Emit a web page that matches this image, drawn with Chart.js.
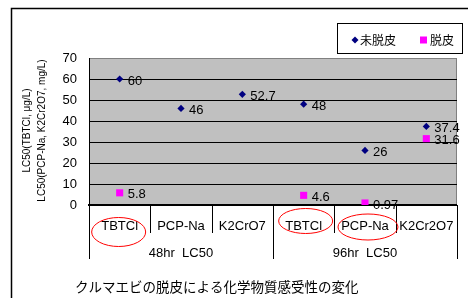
<!DOCTYPE html>
<html>
<head>
<meta charset="utf-8">
<script src="https://cdn.jsdelivr.net/npm/chart.js@4"></script>
<style>
  body { margin: 0; background: #fff; }
  canvas { display: block; }
</style>
</head>
<body>
<canvas id="moltChart" width="468" height="298"></canvas>
<script>
// data
const categories = ['TBTCl', 'PCP-Na', 'K2CrO7', 'TBTCl', 'PCP-Na', 'K2Cr2O7'];
const groupLabels = ['48hr  LC50', '96hr  LC50'];
const unmolted = [60, 46, 52.7, 48, 26, 37.4];
const molted = [5.8, null, null, 4.6, 0.97, 31.6];
const seriesNames = ['未脱皮', '脱皮'];
const yTicks = [0, 10, 20, 30, 40, 50, 60, 70];
const yTitle = ['LC50(TBTCl, μg/L)', 'LC50(PCP-Na, K2Cr2O7, mg/L)'];
const caption = 'クルマエビの脱皮による化学物質感受性の変化';

// hand drawn red circles round some tick labels
const circles = [
  { index: 0, dx: -1, y: 232, rx: 27, ry: 14.5 },
  { index: 3, dx: 2, y: 221, rx: 27, ry: 12.5 },
  { index: 4, dx: 3, y: 227, rx: 30, ry: 13 }
];

const FONT = 'Arial, "Liberation Sans", sans-serif';
const JP = '"Noto Sans CJK JP", sans-serif';

// extras drawn around the plot
const decor = {
  id: 'decor',
  beforeDraw(chart) {
    const { ctx, chartArea: a } = chart;
    ctx.save();
    ctx.fillStyle = '#c0c0c0';
    ctx.fillRect(a.left, a.top, a.right - a.left, a.bottom - a.top);
    ctx.strokeStyle = '#808080';
    ctx.lineWidth = 1;
    ctx.strokeRect(a.left + 0.5, a.top + 0.5, a.right - a.left - 1, a.bottom - a.top);
    ctx.restore();
  },
  afterDraw(chart) {
    const { ctx, chartArea: a } = chart;
    const x = chart.scales.x;
    const step = x.getPixelForValue(1) - x.getPixelForValue(0);
    ctx.save();

    // outer frame
    ctx.strokeStyle = '#000';
    ctx.lineWidth = 1.5;
    ctx.beginPath();
    ctx.moveTo(11.5, 298);
    ctx.lineTo(11.5, 8.5);
    ctx.lineTo(468, 8.5);
    ctx.stroke();

    // category separators
    ctx.lineWidth = 1;
    for (let i = 0; i <= categories.length; i++) {
      const px = Math.round(x.getPixelForValue(i) - step / 2) + 0.5;
      ctx.beginPath();
      ctx.moveTo(px, a.bottom);
      ctx.lineTo(px, i % 3 === 0 ? 259 : 233);
      ctx.stroke();
    }

    // group labels
    ctx.fillStyle = '#000';
    ctx.font = '13px ' + FONT;
    ctx.textAlign = 'center';
    ctx.textBaseline = 'middle';
    groupLabels.forEach((g, k) => {
      const cx = (x.getPixelForValue(k * 3) + x.getPixelForValue(k * 3 + 2)) / 2;
      ctx.fillText(g, cx, 253);
    });

    // value labels
    ctx.textAlign = 'left';
    chart.data.datasets.forEach((ds, di) => {
      chart.getDatasetMeta(di).data.forEach((pt, i) => {
        const v = ds.data[i];
        if (v == null) return;
        ctx.fillText(String(v), pt.x + 8, pt.y + 2);
      });
    });

    // red circles
    ctx.strokeStyle = '#ff0000';
    ctx.lineWidth = 1;
    circles.forEach(c => {
      ctx.beginPath();
      ctx.ellipse(x.getPixelForValue(c.index) + c.dx, c.y, c.rx, c.ry, 0, 0, Math.PI * 2);
      ctx.stroke();
    });

    // y title
    ctx.font = '10px ' + FONT;
    ctx.textAlign = 'center';
    ctx.translate(0, (a.top + a.bottom) / 2 - 1);
    ctx.rotate(-Math.PI / 2);
    ctx.fillText(yTitle[0], 0, 27);
    ctx.fillText(yTitle[1], 0, 42);
    ctx.setTransform(1, 0, 0, 1, 0, 0);

    // legend
    ctx.strokeStyle = '#000';
    ctx.strokeRect(337.5, 23.5, 125, 30);
    ctx.font = '12px ' + JP;
    ctx.textAlign = 'left';
    ctx.fillStyle = chart.data.datasets[0].backgroundColor;
    ctx.beginPath();
    ctx.moveTo(355, 36.5); ctx.lineTo(358.5, 40); ctx.lineTo(355, 43.5); ctx.lineTo(351.5, 40);
    ctx.closePath();
    ctx.fill();
    ctx.fillStyle = '#000';
    ctx.fillText(seriesNames[0], 360, 40);
    ctx.fillStyle = chart.data.datasets[1].backgroundColor;
    ctx.fillRect(420, 36.5, 7, 7);
    ctx.fillStyle = '#000';
    ctx.fillText(seriesNames[1], 430, 40);

    // caption
    ctx.font = '13.5px ' + JP;
    ctx.fillText(caption, 75, 287);
    ctx.restore();
  }
};

new Chart(document.getElementById('moltChart'), {
  type: 'line',
  data: {
    labels: categories,
    datasets: [
      {
        label: seriesNames[0],
        data: unmolted,
        showLine: false,
        pointStyle: 'rectRot',
        pointRadius: 3.6,
        backgroundColor: '#000080',
        borderColor: '#000080',
        borderWidth: 0
      },
      {
        label: seriesNames[1],
        data: molted,
        showLine: false,
        pointStyle: 'rect',
        pointRadius: 5,
        backgroundColor: '#ff00ff',
        borderColor: '#ff00ff',
        borderWidth: 0
      }
    ]
  },
  options: {
    responsive: false,
    animation: false,
    devicePixelRatio: 1,
    layout: { padding: { top: 58, right: 7, left: 0, bottom: 0 } },
    plugins: {
      legend: { display: false },
      tooltip: { enabled: false }
    },
    scales: {
      x: {
        offset: true,
        afterFit: s => { s.height = 93; },
        grid: { display: false, drawTicks: false },
        border: { display: true, color: '#000', width: 2 },
        ticks: { color: '#000', font: { family: FONT, size: 13 }, padding: 14, maxRotation: 0, autoSkip: false }
      },
      y: {
        min: 0,
        max: 70,
        afterFit: s => { s.width = 89; },
        afterBuildTicks: s => { s.ticks = yTicks.map(v => ({ value: v })); },
        grid: {
          drawTicks: false,
          color: c => c.tick && c.tick.value === 70 ? '#808080' : '#000',
          lineWidth: 1
        },
        border: { display: true, color: '#000', width: 1 },
        ticks: { color: '#000', font: { family: FONT, size: 13 }, padding: 12 }
      }
    }
  },
  plugins: [decor]
});
</script>
</body>
</html>
